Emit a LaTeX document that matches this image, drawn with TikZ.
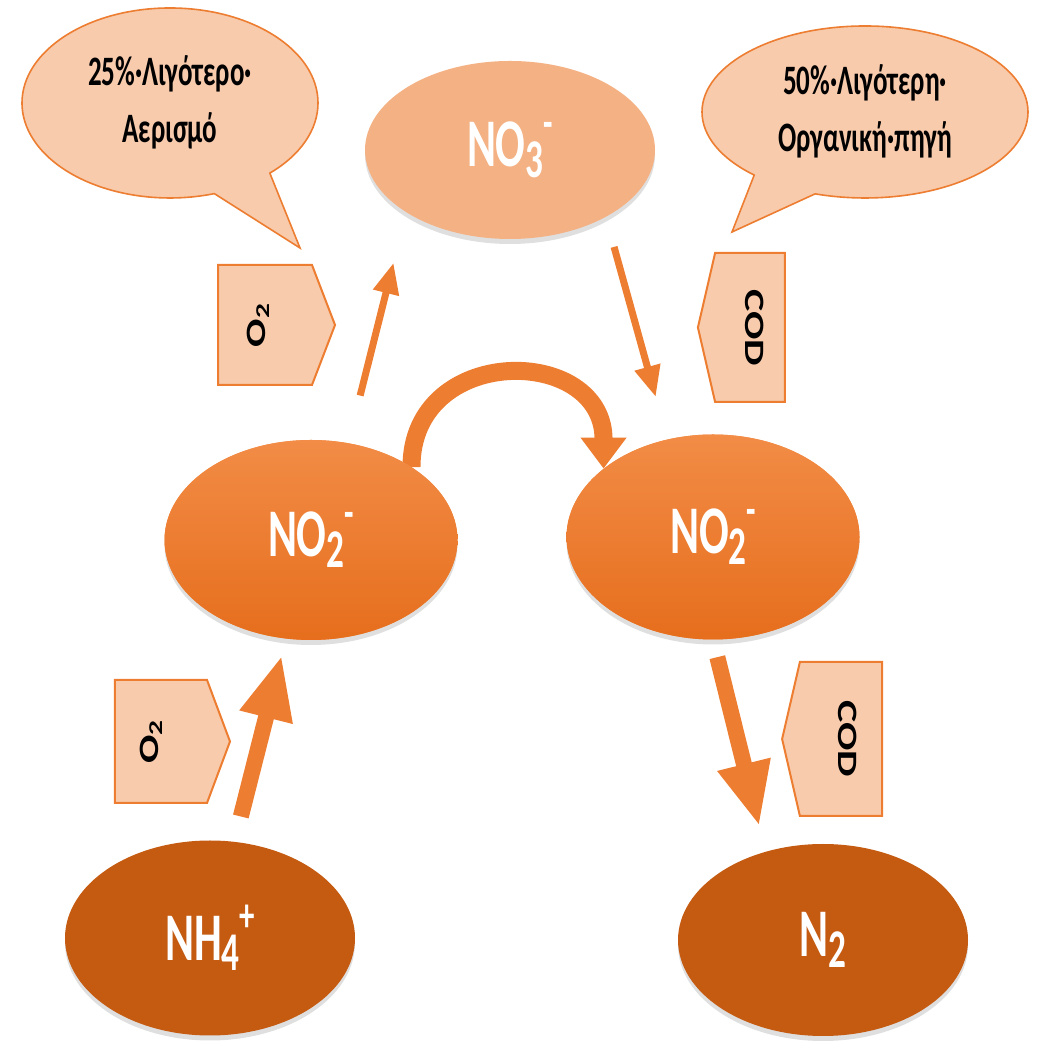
\documentclass[tikz,border=0pt]{standalone}
\usepackage{fontspec}
\setmainfont{Carlito}
\usepackage{xcolor}
\usepackage{tikz}
\usetikzlibrary{shapes.geometric, shapes.callouts, shapes.symbols, arrows.meta, positioning, backgrounds, shadows}

\definecolor{peach}{HTML}{F8CBAD}
\definecolor{salmon}{HTML}{F4B183}
\definecolor{accent}{HTML}{ED7D31}
\definecolor{rust}{HTML}{C55A11}
\definecolor{ambertop}{HTML}{F28C46}
\definecolor{amberbot}{HTML}{E66E1D}

\newcommand{\tall}[1]{\scalebox{1}[1.55]{#1}}
\newcommand{\wide}[1]{\scalebox{1.5}[1]{#1}}
\newcommand{\lo}[1]{\raisebox{-0.16em}{\scalebox{0.8}{#1}}}
\newcommand{\hi}[1]{\raisebox{0.42em}{\scalebox{0.7}{#1}}}

\begin{document}
\begin{tikzpicture}[
    x=1pt, y=1pt,
    ion/.style={ellipse, fill=#1, inner sep=0pt, text=white, font=\fontsize{44}{50}\selectfont\bfseries, drop shadow={shadow xshift=0pt, shadow yshift=-5pt, opacity=0.25}},
    bubble/.style={ellipse callout, draw=accent, line width=1.6pt, fill=peach, inner sep=0pt, callout pointer arc=25, font=\fontsize{27}{32}\selectfont\bfseries},
    tag/.style={signal, draw=accent, line width=2pt, fill=peach, inner sep=0pt, font=\fontsize{28}{32}\selectfont\bfseries},
    arrow/.style={-{Triangle[length=31pt, width=25pt]}, line width=7pt, draw=accent},
    bigarrow/.style={-{Triangle[length=64pt, width=50pt]}, line width=16pt, draw=accent},
    bendarrow/.style={-{Triangle[length=31pt, width=44pt]}, line width=18pt, draw=accent}
]
    \useasboundingbox (0,0) rectangle (1038,1048);

    % Nitrogen species
    \node[ion=salmon, minimum width=290pt, minimum height=178pt] (no3) at (510,898) {\tall{NO\lo{3}\hi{-}}};
    \node[ion=ambertop, top color=ambertop, bottom color=amberbot, minimum width=293pt, minimum height=200pt] (no2a) at (311,508) {\tall{NO\lo{2}\hi{-}}};
    \node[ion=ambertop, top color=ambertop, bottom color=amberbot, minimum width=293pt, minimum height=205pt] (no2b) at (713,511) {\tall{NO\lo{2}\hi{-}}};
    \node[ion=rust, minimum width=290pt, minimum height=195pt] (nh4) at (210,110) {\tall{NH\lo{4}\hi{+}}};
    \node[ion=rust, minimum width=290pt, minimum height=192pt] (n2) at (823,108) {\tall{N\lo{2}}};

    % Savings callouts
    \node[bubble, minimum width=296pt, minimum height=190pt, callout absolute pointer={(300,800)}] (air) at (170,945)
        {\tall{\renewcommand\arraystretch{1.15}\begin{tabular}{@{}c@{}}25\%·Λιγότερο·\\Αερισμό\end{tabular}}};
    \node[bubble, minimum width=326pt, minimum height=172pt, callout absolute pointer={(732,816)}] (carbon) at (865,936)
        {\tall{\renewcommand\arraystretch{1.15}\begin{tabular}{@{}c@{}}50\%·Λιγότερη·\\Οργανική·πηγή\end{tabular}}};

    % Inputs
    \node[tag, signal to=east, signal pointer angle=138, minimum width=117pt, minimum height=120pt] (o2top) at (265,723)
        {\rotatebox{90}{\wide{O\textsubscript{2}}}\hspace*{14pt}};
    \node[tag, signal to=west, signal pointer angle=154, minimum width=87pt, minimum height=149pt] (codtop) at (750,720.5)
        {\hspace*{10pt}\rotatebox{-90}{\wide{COD}}};
    \node[tag, signal to=east, signal pointer angle=139, minimum width=115pt, minimum height=123pt] (o2low) at (161,306.5)
        {\rotatebox{90}{\wide{O\textsubscript{2}}}\hspace*{20pt}};
    \node[tag, signal to=west, signal pointer angle=154, minimum width=100pt, minimum height=154pt] (codlow) at (841,309)
        {\hspace*{14pt}\rotatebox{-90}{\wide{COD}}};

    % Arrows
    \draw[arrow, shorten <=49pt, shorten >=52pt] (no2a.69) -- (no3.211);
    \draw[arrow, shorten <=31pt, shorten >=44pt] (no3.325) -- (no2b.115);
    \draw[bigarrow, shorten <=26pt, shorten >=17pt] (nh4) -- (no2a);
    \draw[bigarrow, shorten <=18pt, shorten >=26pt] (no2b.south) -- (n2.123);

    % Shortcut
    \begin{scope}[on background layer]
        \draw[bendarrow] (no2a.36) .. controls +(0,124) and +(0,124) .. (no2b.148);
    \end{scope}

\end{tikzpicture}
\end{document}
